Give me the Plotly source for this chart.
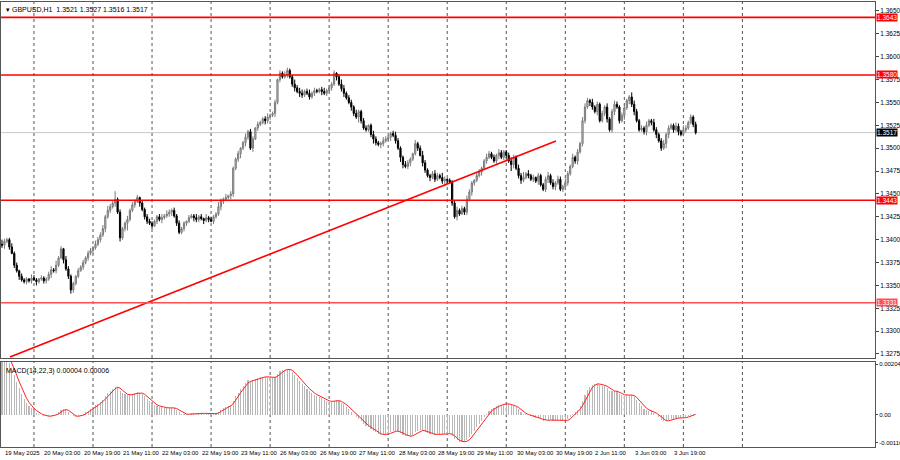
import plotly.graph_objects as go

# closes in 1/10000 above 1.3000, hourly candles from 19 May 11:00
CLOSE_PIPS = [394,398,400,392,385,372,366,360,356,354,357,355,358,356,354,357,358,355,357,362,
367,366,372,380,390,378,368,360,345,352,360,366,370,375,380,385,388,391,395,400,
405,412,425,432,436,440,444,430,402,412,418,422,432,438,442,446,440,433,425,420,
418,415,420,425,422,424,426,428,430,432,426,418,408,412,418,420,424,426,424,422,
425,423,421,424,422,420,425,428,436,442,444,446,448,450,478,488,494,500,506,512,
518,500,510,522,526,528,532,530,534,536,538,550,575,582,578,580,585,578,570,566,
562,560,558,562,560,556,560,563,562,564,562,560,563,566,570,582,578,570,565,560,
555,550,545,538,534,540,530,522,520,525,515,510,506,504,505,508,510,512,516,514,
508,500,490,482,480,484,488,494,505,500,492,484,476,470,468,472,466,470,468,464,
466,465,463,440,425,432,428,434,430,444,452,462,465,470,474,478,486,490,494,490,
486,492,495,490,496,492,486,482,490,478,470,465,468,472,470,466,468,464,470,460,
455,466,470,462,458,462,466,455,458,462,472,480,490,486,496,505,530,545,552,550,
545,540,548,530,538,545,532,520,540,548,545,530,536,544,552,556,548,540,530,520,
522,518,525,530,528,520,515,508,500,505,515,522,525,520,524,518,515,520,522,528,
534,526,517]
OPEN0_PIPS = 395
WICK_UP = ("5322423132214321322342523143221323233243"
           "3425329232242323132332223424323232213224"
           "2314232253241322312423313223422313243225"
           "3442342322342323135423324223312432243223"
           "4322432142353223432531223423243214322432"
           "3243223432436242313223424243253242324432"
           "4232324234323422543232422432342322432532"
           "323")
WICK_DN = ("3423132422323142233242321423432213232422"
           "3242324242382232423323132422342322332143"
           "3242313224322432352432413224332423223234"
           "2432232322423232423422432632223532432242"
           "3254234223143242322364232421332432242322"
           "2342332742342232324223423422343223423324"
           "3242234234232524342223423242325423242232"
           "232")
TICK_LABELS = ["19 May 2025","20 May 03:00","20 May 19:00","21 May 11:00","22 May 03:00",
               "22 May 19:00","23 May 11:00","26 May 03:00","26 May 19:00","27 May 11:00",
               "28 May 03:00","28 May 19:00","29 May 11:00","30 May 03:00","30 May 19:00",
               "2 Jun 11:00","3 Jun 03:00","3 Jun 19:00"]
LEVELS = [1.3643, 1.3580, 1.3443, 1.3331]
LEVEL_COLORS = ["#ff0000", "#ff0000", "#ff0000", "#ff5050"]
TREND_X = [3.25, 225.2]
TREND_Y = [1.32717, 1.35079]
LAST_PRICE = 1.3517
PRICE_TICKS = [1.3275 + 0.0025 * k for k in range(16)]
EMA_SEED = (1.3398, 1.3368)

N = len(CLOSE_PIPS)
close = [1.3 + p / 10000 for p in CLOSE_PIPS]
opn = [1.3 + OPEN0_PIPS / 10000] + close[:-1]
wu = [int(c) for c in WICK_UP[:N]] + [1] * max(0, N - len(WICK_UP))
wd = [int(c) for c in WICK_DN[:N]] + [1] * max(0, N - len(WICK_DN))
high = [max(o, c) + u / 10000 for o, c, u in zip(opn, close, wu)]
low = [min(o, c) - d / 10000 for o, c, d in zip(opn, close, wd)]
xs = list(range(N))

# MACD(14,22,3)
ef, es = EMA_SEED
af, as_ = 2 / 15, 2 / 23
macd = []
for c in close:
    ef += af * (c - ef)
    es += as_ * (c - es)
    macd.append(ef - es)
sig = []
for i in range(N):
    w = macd[max(0, i - 2):i + 1]
    sig.append(sum(w) / len(w))

FONT = "Liberation Sans"
fig = go.Figure()
fig.add_trace(go.Candlestick(x=xs, open=opn, high=high, low=low, close=close,
    increasing=dict(line=dict(color="#7a7a7a", width=1), fillcolor="#c8c8c8"),
    decreasing=dict(line=dict(color="#000000", width=1), fillcolor="#000000"),
    whiskerwidth=0, xaxis="x", yaxis="y", hoverinfo="skip", showlegend=False))
fig.add_trace(go.Scatter(x=TREND_X, y=TREND_Y, mode="lines",
    line=dict(color="#ff0000", width=1.6), xaxis="x", yaxis="y", showlegend=False))
fig.add_trace(go.Bar(x=xs, y=macd, marker=dict(color="#b8b8b8", line=dict(width=0)),
    width=0.45, xaxis="x2", yaxis="y2", showlegend=False))
fig.add_trace(go.Scatter(x=xs, y=sig, mode="lines", line=dict(color="#ff2020", width=1),
    xaxis="x2", yaxis="y2", showlegend=False))

XR = [-0.4, 354.9]
shapes = []
for k in range(13):
    gx = 13 + 24 * k
    for yr in ("y", "y2"):
        shapes.append(dict(type="line", xref="x", yref=yr + " domain", x0=gx, x1=gx, y0=0, y1=1,
                           line=dict(color="#555555", width=1, dash="dot"), layer="below"))
shapes.append(dict(type="line", xref="paper", yref="y", x0=0, x1=1, y0=LAST_PRICE, y1=LAST_PRICE,
                   line=dict(color="#c8c8c8", width=1), layer="below"))
for lv, col in zip(LEVELS, LEVEL_COLORS):
    shapes.append(dict(type="line", xref="paper", yref="y", x0=0, x1=1, y0=lv, y1=lv,
                       line=dict(color=col, width=1.6)))

ann = []
for k, lab in enumerate(TICK_LABELS):
    ann.append(dict(x=16 * k, y=0, xref="x", yref="paper", text=lab, showarrow=False,
                    xanchor="left", yanchor="top", yshift=-1, xshift=1,
                    font=dict(size=6, color="#000", family=FONT)))
for lv, col in zip(LEVELS, LEVEL_COLORS):
    ann.append(dict(x=1, y=lv, xref="paper", yref="y", text=f"{lv:.4f}", showarrow=False,
                    xanchor="left", yanchor="middle", xshift=1, bgcolor=col, borderpad=0,
                    font=dict(size=6.5, color="#fff", family=FONT)))
ann.append(dict(x=1, y=LAST_PRICE, xref="paper", yref="y", text=f"{LAST_PRICE:.4f}", showarrow=False,
                xanchor="left", yanchor="middle", xshift=1, bgcolor="#000", borderpad=0,
                font=dict(size=6.5, color="#fff", family=FONT)))
ann.append(dict(x=0, y=1, xref="paper", yref="paper", text="▾ GBPUSD,H1  1.3521 1.3527 1.3516 1.3517",
                showarrow=False, xanchor="left", yanchor="top", xshift=3, yshift=-2,
                font=dict(size=7, color="#000", family=FONT)))
ann.append(dict(x=0, y=1, xref="paper", yref="y2 domain", text="MACD(14,22,3) 0.00004 0.00006",
                showarrow=False, xanchor="left", yanchor="top", xshift=3, yshift=-3,
                font=dict(size=7, color="#000", family=FONT)))

axcommon = dict(showgrid=False, zeroline=False, showline=True, linecolor="#555555", mirror=True,
                range=XR, fixedrange=True, automargin=False)
yfont = dict(size=6.5, family=FONT, color="#000")
fig.update_layout(
    width=900, height=460, margin=dict(l=1, r=25, t=2, b=13, autoexpand=False),
    paper_bgcolor="#ffffff", plot_bgcolor="#ffffff", bargap=0,
    xaxis=dict(domain=[0, 1], anchor="y", showticklabels=False, rangeslider=dict(visible=False), **axcommon),
    xaxis2=dict(domain=[0, 1], anchor="y2", showticklabels=False, **axcommon),
    yaxis=dict(domain=[0.2, 1], side="right", range=[1.32706, 1.36598], tickvals=PRICE_TICKS,
               ticktext=[f"{v:.4f}" for v in PRICE_TICKS], ticks="outside", ticklen=3, automargin=False,
               tickfont=yfont, showgrid=False, zeroline=False, showline=True, linecolor="#555555", mirror=True),
    yaxis2=dict(domain=[0, 0.191], side="right", range=[-0.00128, 0.00208],
                tickvals=[0.0020, 0, -0.00112], ticktext=["0.00204", "0.00", "-0.00116"],
                ticks="outside", ticklen=2, tickfont=dict(size=6, family=FONT, color="#000"),
                automargin=False, showgrid=False, zeroline=False, showline=True,
                linecolor="#555555", mirror=True),
    shapes=shapes, annotations=ann, font=dict(family=FONT),
)
fig.write_html("out.html", config={"staticPlot": True},
               post_script="document.body.style.margin='0';document.body.style.overflow='hidden';")
